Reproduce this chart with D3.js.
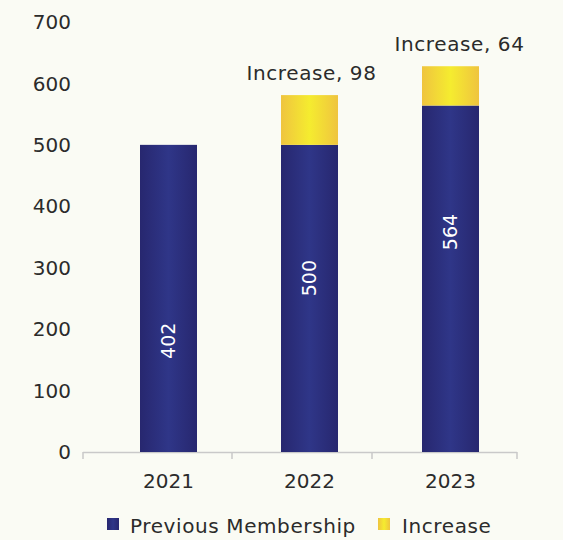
<!DOCTYPE html>
<html><head><meta charset="utf-8">
<script src="https://cdn.jsdelivr.net/npm/d3@7"></script>
<style>
html,body{margin:0;padding:0;background:#fafbf4;}
text{font-family:"DejaVu Sans",sans-serif;fill:#2b2b2b;}
</style></head>
<body>
<svg id="chart" width="563" height="540"></svg>
<script>
const years = ["2021", "2022", "2023"];
const previousMembership = [500, 500, 564];
const increase = [0, 81, 64];
const previousLabels = ["402", "500", "564"];
const increaseLabels = [null, "Increase, 98", "Increase, 64"];
const labelAnchor = [181, 283, 358];
const yTicks = [0, 100, 200, 300, 400, 500, 600, 700];
const seriesNames = ["Previous Membership", "Increase"];

const svg = d3.select("#chart");
const defs = svg.append("defs");
function grad(id, edge, mid) {
  const g = defs.append("linearGradient").attr("id", id).attr("x1", "0%").attr("x2", "100%");
  g.append("stop").attr("offset", "0%").attr("stop-color", edge);
  g.append("stop").attr("offset", "50%").attr("stop-color", mid);
  g.append("stop").attr("offset", "100%").attr("stop-color", edge);
}
grad("gBlue", "#27276f", "#2f3688");
grad("gYellow", "#efc43f", "#f5ec2f");

const y = d3.scaleLinear().domain([0, 700]).range([452, 22]);
const x = d3.scalePoint().domain(years).range([168.5, 450.5]);
const bw = 57;
const fs = "20px";
const ls = "0.6px";

// y axis labels
svg.append("g").selectAll("text").data(yTicks).join("text")
  .attr("x", 71).attr("y", d => y(d)).attr("dy", "0.36em")
  .attr("text-anchor", "end").style("font-size", fs).text(d => d);

// x axis line
const axisG = svg.append("g");
axisG.append("line").attr("x1", 83).attr("x2", 517).attr("y1", 452.5).attr("y2", 452.5)
  .attr("stroke", "#c9c9c9").attr("stroke-width", 1.5);
const tickXs = [83, 232, 372, 517];
axisG.selectAll("line.t").data(tickXs).join("line").attr("class", "t")
  .attr("x1", d => d).attr("x2", d => d).attr("y1", 452).attr("y2", 459)
  .attr("stroke", "#c9c9c9").attr("stroke-width", 1.5);
axisG.selectAll("text").data(years).join("text")
  .attr("x", d => x(d)).attr("y", 488).attr("text-anchor", "middle")
  .style("font-size", fs).text(d => d);

// bars
const rows = years.map((yr, i) => ({yr, p: previousMembership[i], inc: increase[i], i}));
svg.append("g").selectAll("rect").data(rows).join("rect")
  .attr("x", d => x(d.yr) - bw / 2).attr("width", bw)
  .attr("y", d => y(d.p)).attr("height", d => y(0) - y(d.p))
  .attr("fill", "url(#gBlue)");
svg.append("g").selectAll("rect").data(rows.filter(d => d.inc > 0)).join("rect")
  .attr("x", d => x(d.yr) - bw / 2).attr("width", bw)
  .attr("y", d => y(d.p + d.inc)).attr("height", d => y(d.p) - y(d.p + d.inc))
  .attr("fill", "url(#gYellow)");

// inner labels
svg.append("g").selectAll("text").data(rows).join("text")
  .attr("transform", d => `translate(${x(d.yr)},${y(labelAnchor[d.i])}) rotate(-90)`)
  .attr("text-anchor", "middle").attr("dy", "0.36em")
  .style("font-size", "19px").style("fill", "#ffffff")
  .text(d => previousLabels[d.i]);

// increase labels
svg.append("g").selectAll("text").data(rows.filter(d => increaseLabels[d.i])).join("text")
  .attr("x", d => x(d.yr) + (d.i === 2 ? 9 : 2))
  .attr("y", d => y(d.p + d.inc) - 15)
  .attr("text-anchor", "middle").style("font-size", fs).style("letter-spacing", ls)
  .text(d => increaseLabels[d.i]);

// legend
const leg = svg.append("g");
const legItems = [
  {name: seriesNames[0], fill: "url(#gBlue)", sx: 107, tx: 130},
  {name: seriesNames[1], fill: "url(#gYellow)", sx: 378, tx: 402}
];
leg.selectAll("rect").data(legItems).join("rect")
  .attr("x", d => d.sx).attr("y", 518).attr("width", 12).attr("height", 12).attr("fill", d => d.fill);
leg.selectAll("text").data(legItems).join("text")
  .attr("x", d => d.tx).attr("y", 526).attr("dy", "0.36em")
  .style("font-size", fs).style("letter-spacing", ls).text(d => d.name);
</script>
</body></html>
